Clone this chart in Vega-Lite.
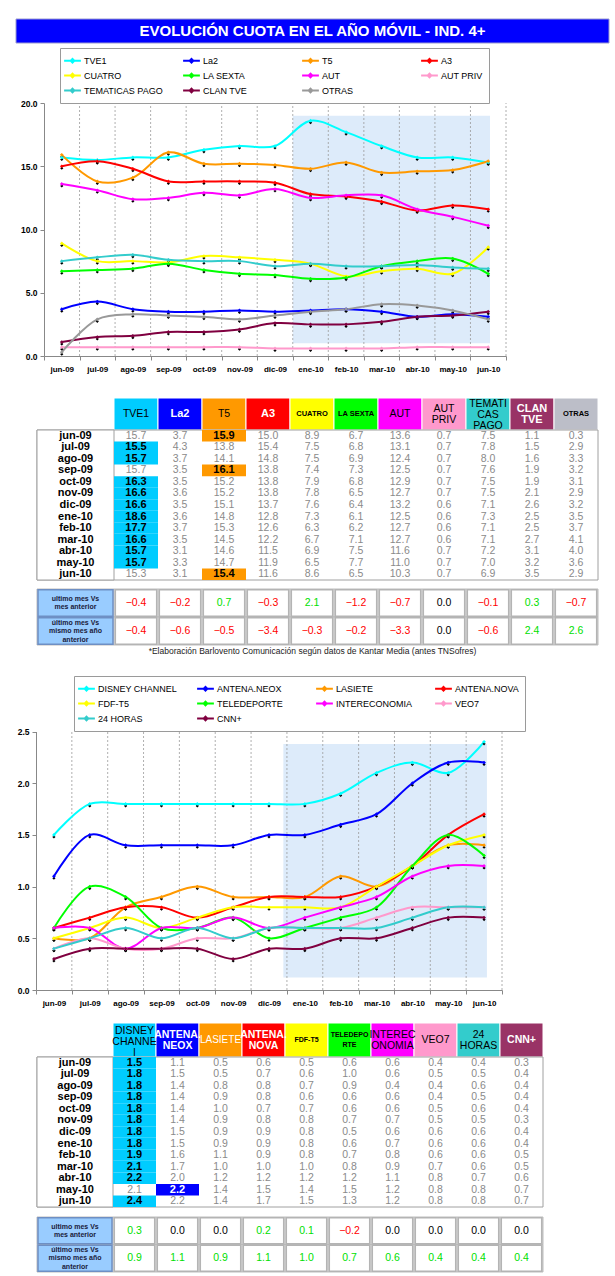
{
"$schema":"https://vega.github.io/schema/vega-lite/v6.json",
"padding":{"left":15,"top":18,"right":7,"bottom":5},
"spacing":0,
"bounds":"flush",
"resolve":{"scale":{"color":"independent"},"legend":{"color":"independent"}},
"config":{"view":{"stroke":null},"font":"Liberation Sans, Arial, sans-serif"},
"datasets":{
"d1":[
{"m":"jun-09","c":"TVE1","v":15.7},{"m":"jul-09","c":"TVE1","v":15.5},{"m":"ago-09","c":"TVE1","v":15.7},{"m":"sep-09","c":"TVE1","v":15.7},{"m":"oct-09","c":"TVE1","v":16.3},{"m":"nov-09","c":"TVE1","v":16.6},{"m":"dic-09","c":"TVE1","v":16.6},{"m":"ene-10","c":"TVE1","v":18.6},{"m":"feb-10","c":"TVE1","v":17.7},{"m":"mar-10","c":"TVE1","v":16.6},{"m":"abr-10","c":"TVE1","v":15.7},{"m":"may-10","c":"TVE1","v":15.7},{"m":"jun-10","c":"TVE1","v":15.3},
{"m":"jun-09","c":"La2","v":3.7},{"m":"jul-09","c":"La2","v":4.3},{"m":"ago-09","c":"La2","v":3.7},{"m":"sep-09","c":"La2","v":3.5},{"m":"oct-09","c":"La2","v":3.5},{"m":"nov-09","c":"La2","v":3.6},{"m":"dic-09","c":"La2","v":3.5},{"m":"ene-10","c":"La2","v":3.6},{"m":"feb-10","c":"La2","v":3.7},{"m":"mar-10","c":"La2","v":3.5},{"m":"abr-10","c":"La2","v":3.1},{"m":"may-10","c":"La2","v":3.3},{"m":"jun-10","c":"La2","v":3.1},
{"m":"jun-09","c":"T5","v":15.9},{"m":"jul-09","c":"T5","v":13.8},{"m":"ago-09","c":"T5","v":14.1},{"m":"sep-09","c":"T5","v":16.1},{"m":"oct-09","c":"T5","v":15.2},{"m":"nov-09","c":"T5","v":15.2},{"m":"dic-09","c":"T5","v":15.1},{"m":"ene-10","c":"T5","v":14.8},{"m":"feb-10","c":"T5","v":15.3},{"m":"mar-10","c":"T5","v":14.5},{"m":"abr-10","c":"T5","v":14.6},{"m":"may-10","c":"T5","v":14.7},{"m":"jun-10","c":"T5","v":15.4},
{"m":"jun-09","c":"A3","v":15.0},{"m":"jul-09","c":"A3","v":15.4},{"m":"ago-09","c":"A3","v":14.8},{"m":"sep-09","c":"A3","v":13.8},{"m":"oct-09","c":"A3","v":13.8},{"m":"nov-09","c":"A3","v":13.8},{"m":"dic-09","c":"A3","v":13.7},{"m":"ene-10","c":"A3","v":12.8},{"m":"feb-10","c":"A3","v":12.6},{"m":"mar-10","c":"A3","v":12.2},{"m":"abr-10","c":"A3","v":11.5},{"m":"may-10","c":"A3","v":11.9},{"m":"jun-10","c":"A3","v":11.6},
{"m":"jun-09","c":"CUATRO","v":8.9},{"m":"jul-09","c":"CUATRO","v":7.5},{"m":"ago-09","c":"CUATRO","v":7.5},{"m":"sep-09","c":"CUATRO","v":7.4},{"m":"oct-09","c":"CUATRO","v":7.9},{"m":"nov-09","c":"CUATRO","v":7.8},{"m":"dic-09","c":"CUATRO","v":7.6},{"m":"ene-10","c":"CUATRO","v":7.3},{"m":"feb-10","c":"CUATRO","v":6.3},{"m":"mar-10","c":"CUATRO","v":6.7},{"m":"abr-10","c":"CUATRO","v":6.9},{"m":"may-10","c":"CUATRO","v":6.5},{"m":"jun-10","c":"CUATRO","v":8.6},
{"m":"jun-09","c":"LA SEXTA","v":6.7},{"m":"jul-09","c":"LA SEXTA","v":6.8},{"m":"ago-09","c":"LA SEXTA","v":6.9},{"m":"sep-09","c":"LA SEXTA","v":7.3},{"m":"oct-09","c":"LA SEXTA","v":6.8},{"m":"nov-09","c":"LA SEXTA","v":6.5},{"m":"dic-09","c":"LA SEXTA","v":6.4},{"m":"ene-10","c":"LA SEXTA","v":6.1},{"m":"feb-10","c":"LA SEXTA","v":6.2},{"m":"mar-10","c":"LA SEXTA","v":7.1},{"m":"abr-10","c":"LA SEXTA","v":7.5},{"m":"may-10","c":"LA SEXTA","v":7.7},{"m":"jun-10","c":"LA SEXTA","v":6.5},
{"m":"jun-09","c":"AUT","v":13.6},{"m":"jul-09","c":"AUT","v":13.1},{"m":"ago-09","c":"AUT","v":12.4},{"m":"sep-09","c":"AUT","v":12.5},{"m":"oct-09","c":"AUT","v":12.9},{"m":"nov-09","c":"AUT","v":12.7},{"m":"dic-09","c":"AUT","v":13.2},{"m":"ene-10","c":"AUT","v":12.5},{"m":"feb-10","c":"AUT","v":12.7},{"m":"mar-10","c":"AUT","v":12.7},{"m":"abr-10","c":"AUT","v":11.6},{"m":"may-10","c":"AUT","v":11.0},{"m":"jun-10","c":"AUT","v":10.3},
{"m":"jun-09","c":"AUT PRIV","v":0.7},{"m":"jul-09","c":"AUT PRIV","v":0.7},{"m":"ago-09","c":"AUT PRIV","v":0.7},{"m":"sep-09","c":"AUT PRIV","v":0.7},{"m":"oct-09","c":"AUT PRIV","v":0.7},{"m":"nov-09","c":"AUT PRIV","v":0.7},{"m":"dic-09","c":"AUT PRIV","v":0.6},{"m":"ene-10","c":"AUT PRIV","v":0.6},{"m":"feb-10","c":"AUT PRIV","v":0.6},{"m":"mar-10","c":"AUT PRIV","v":0.6},{"m":"abr-10","c":"AUT PRIV","v":0.7},{"m":"may-10","c":"AUT PRIV","v":0.7},{"m":"jun-10","c":"AUT PRIV","v":0.7},
{"m":"jun-09","c":"TEMATICAS PAGO","v":7.5},{"m":"jul-09","c":"TEMATICAS PAGO","v":7.8},{"m":"ago-09","c":"TEMATICAS PAGO","v":8.0},{"m":"sep-09","c":"TEMATICAS PAGO","v":7.6},{"m":"oct-09","c":"TEMATICAS PAGO","v":7.5},{"m":"nov-09","c":"TEMATICAS PAGO","v":7.5},{"m":"dic-09","c":"TEMATICAS PAGO","v":7.1},{"m":"ene-10","c":"TEMATICAS PAGO","v":7.3},{"m":"feb-10","c":"TEMATICAS PAGO","v":7.1},{"m":"mar-10","c":"TEMATICAS PAGO","v":7.1},{"m":"abr-10","c":"TEMATICAS PAGO","v":7.2},{"m":"may-10","c":"TEMATICAS PAGO","v":7.0},{"m":"jun-10","c":"TEMATICAS PAGO","v":6.9},
{"m":"jun-09","c":"CLAN TVE","v":1.1},{"m":"jul-09","c":"CLAN TVE","v":1.5},{"m":"ago-09","c":"CLAN TVE","v":1.6},{"m":"sep-09","c":"CLAN TVE","v":1.9},{"m":"oct-09","c":"CLAN TVE","v":1.9},{"m":"nov-09","c":"CLAN TVE","v":2.1},{"m":"dic-09","c":"CLAN TVE","v":2.6},{"m":"ene-10","c":"CLAN TVE","v":2.5},{"m":"feb-10","c":"CLAN TVE","v":2.5},{"m":"mar-10","c":"CLAN TVE","v":2.7},{"m":"abr-10","c":"CLAN TVE","v":3.1},{"m":"may-10","c":"CLAN TVE","v":3.2},{"m":"jun-10","c":"CLAN TVE","v":3.5},
{"m":"jun-09","c":"OTRAS","v":0.3},{"m":"jul-09","c":"OTRAS","v":2.9},{"m":"ago-09","c":"OTRAS","v":3.3},{"m":"sep-09","c":"OTRAS","v":3.2},{"m":"oct-09","c":"OTRAS","v":3.1},{"m":"nov-09","c":"OTRAS","v":2.9},{"m":"dic-09","c":"OTRAS","v":3.2},{"m":"ene-10","c":"OTRAS","v":3.5},{"m":"feb-10","c":"OTRAS","v":3.7},{"m":"mar-10","c":"OTRAS","v":4.1},{"m":"abr-10","c":"OTRAS","v":4.0},{"m":"may-10","c":"OTRAS","v":3.6},{"m":"jun-10","c":"OTRAS","v":2.9}
],
"d2":[
{"m":"jun-09","c":"DISNEY CHANNEL","v":1.5},{"m":"jul-09","c":"DISNEY CHANNEL","v":1.8},{"m":"ago-09","c":"DISNEY CHANNEL","v":1.8},{"m":"sep-09","c":"DISNEY CHANNEL","v":1.8},{"m":"oct-09","c":"DISNEY CHANNEL","v":1.8},{"m":"nov-09","c":"DISNEY CHANNEL","v":1.8},{"m":"dic-09","c":"DISNEY CHANNEL","v":1.8},{"m":"ene-10","c":"DISNEY CHANNEL","v":1.8},{"m":"feb-10","c":"DISNEY CHANNEL","v":1.9},{"m":"mar-10","c":"DISNEY CHANNEL","v":2.1},{"m":"abr-10","c":"DISNEY CHANNEL","v":2.2},{"m":"may-10","c":"DISNEY CHANNEL","v":2.1},{"m":"jun-10","c":"DISNEY CHANNEL","v":2.4},
{"m":"jun-09","c":"ANTENA.NEOX","v":1.1},{"m":"jul-09","c":"ANTENA.NEOX","v":1.5},{"m":"ago-09","c":"ANTENA.NEOX","v":1.4},{"m":"sep-09","c":"ANTENA.NEOX","v":1.4},{"m":"oct-09","c":"ANTENA.NEOX","v":1.4},{"m":"nov-09","c":"ANTENA.NEOX","v":1.4},{"m":"dic-09","c":"ANTENA.NEOX","v":1.5},{"m":"ene-10","c":"ANTENA.NEOX","v":1.5},{"m":"feb-10","c":"ANTENA.NEOX","v":1.6},{"m":"mar-10","c":"ANTENA.NEOX","v":1.7},{"m":"abr-10","c":"ANTENA.NEOX","v":2.0},{"m":"may-10","c":"ANTENA.NEOX","v":2.2},{"m":"jun-10","c":"ANTENA.NEOX","v":2.2},
{"m":"jun-09","c":"LASIETE","v":0.5},{"m":"jul-09","c":"LASIETE","v":0.5},{"m":"ago-09","c":"LASIETE","v":0.8},{"m":"sep-09","c":"LASIETE","v":0.9},{"m":"oct-09","c":"LASIETE","v":1.0},{"m":"nov-09","c":"LASIETE","v":0.9},{"m":"dic-09","c":"LASIETE","v":0.9},{"m":"ene-10","c":"LASIETE","v":0.9},{"m":"feb-10","c":"LASIETE","v":1.1},{"m":"mar-10","c":"LASIETE","v":1.0},{"m":"abr-10","c":"LASIETE","v":1.2},{"m":"may-10","c":"LASIETE","v":1.4},{"m":"jun-10","c":"LASIETE","v":1.4},
{"m":"jun-09","c":"ANTENA.NOVA","v":0.6},{"m":"jul-09","c":"ANTENA.NOVA","v":0.7},{"m":"ago-09","c":"ANTENA.NOVA","v":0.8},{"m":"sep-09","c":"ANTENA.NOVA","v":0.8},{"m":"oct-09","c":"ANTENA.NOVA","v":0.7},{"m":"nov-09","c":"ANTENA.NOVA","v":0.8},{"m":"dic-09","c":"ANTENA.NOVA","v":0.9},{"m":"ene-10","c":"ANTENA.NOVA","v":0.9},{"m":"feb-10","c":"ANTENA.NOVA","v":0.9},{"m":"mar-10","c":"ANTENA.NOVA","v":1.0},{"m":"abr-10","c":"ANTENA.NOVA","v":1.2},{"m":"may-10","c":"ANTENA.NOVA","v":1.5},{"m":"jun-10","c":"ANTENA.NOVA","v":1.7},
{"m":"jun-09","c":"FDF-T5","v":0.5},{"m":"jul-09","c":"FDF-T5","v":0.6},{"m":"ago-09","c":"FDF-T5","v":0.7},{"m":"sep-09","c":"FDF-T5","v":0.6},{"m":"oct-09","c":"FDF-T5","v":0.7},{"m":"nov-09","c":"FDF-T5","v":0.8},{"m":"dic-09","c":"FDF-T5","v":0.8},{"m":"ene-10","c":"FDF-T5","v":0.8},{"m":"feb-10","c":"FDF-T5","v":0.8},{"m":"mar-10","c":"FDF-T5","v":1.0},{"m":"abr-10","c":"FDF-T5","v":1.2},{"m":"may-10","c":"FDF-T5","v":1.4},{"m":"jun-10","c":"FDF-T5","v":1.5},
{"m":"jun-09","c":"TELEDEPORTE","v":0.6},{"m":"jul-09","c":"TELEDEPORTE","v":1.0},{"m":"ago-09","c":"TELEDEPORTE","v":0.9},{"m":"sep-09","c":"TELEDEPORTE","v":0.6},{"m":"oct-09","c":"TELEDEPORTE","v":0.6},{"m":"nov-09","c":"TELEDEPORTE","v":0.7},{"m":"dic-09","c":"TELEDEPORTE","v":0.5},{"m":"ene-10","c":"TELEDEPORTE","v":0.6},{"m":"feb-10","c":"TELEDEPORTE","v":0.7},{"m":"mar-10","c":"TELEDEPORTE","v":0.8},{"m":"abr-10","c":"TELEDEPORTE","v":1.2},{"m":"may-10","c":"TELEDEPORTE","v":1.5},{"m":"jun-10","c":"TELEDEPORTE","v":1.3},
{"m":"jun-09","c":"INTERECONOMIA","v":0.6},{"m":"jul-09","c":"INTERECONOMIA","v":0.6},{"m":"ago-09","c":"INTERECONOMIA","v":0.4},{"m":"sep-09","c":"INTERECONOMIA","v":0.6},{"m":"oct-09","c":"INTERECONOMIA","v":0.6},{"m":"nov-09","c":"INTERECONOMIA","v":0.7},{"m":"dic-09","c":"INTERECONOMIA","v":0.6},{"m":"ene-10","c":"INTERECONOMIA","v":0.7},{"m":"feb-10","c":"INTERECONOMIA","v":0.8},{"m":"mar-10","c":"INTERECONOMIA","v":0.9},{"m":"abr-10","c":"INTERECONOMIA","v":1.1},{"m":"may-10","c":"INTERECONOMIA","v":1.2},{"m":"jun-10","c":"INTERECONOMIA","v":1.2},
{"m":"jun-09","c":"VEO7","v":0.4},{"m":"jul-09","c":"VEO7","v":0.5},{"m":"ago-09","c":"VEO7","v":0.4},{"m":"sep-09","c":"VEO7","v":0.4},{"m":"oct-09","c":"VEO7","v":0.5},{"m":"nov-09","c":"VEO7","v":0.5},{"m":"dic-09","c":"VEO7","v":0.6},{"m":"ene-10","c":"VEO7","v":0.6},{"m":"feb-10","c":"VEO7","v":0.6},{"m":"mar-10","c":"VEO7","v":0.7},{"m":"abr-10","c":"VEO7","v":0.8},{"m":"may-10","c":"VEO7","v":0.8},{"m":"jun-10","c":"VEO7","v":0.8},
{"m":"jun-09","c":"24 HORAS","v":0.4},{"m":"jul-09","c":"24 HORAS","v":0.5},{"m":"ago-09","c":"24 HORAS","v":0.6},{"m":"sep-09","c":"24 HORAS","v":0.5},{"m":"oct-09","c":"24 HORAS","v":0.6},{"m":"nov-09","c":"24 HORAS","v":0.5},{"m":"dic-09","c":"24 HORAS","v":0.6},{"m":"ene-10","c":"24 HORAS","v":0.6},{"m":"feb-10","c":"24 HORAS","v":0.6},{"m":"mar-10","c":"24 HORAS","v":0.6},{"m":"abr-10","c":"24 HORAS","v":0.7},{"m":"may-10","c":"24 HORAS","v":0.8},{"m":"jun-10","c":"24 HORAS","v":0.8},
{"m":"jun-09","c":"CNN+","v":0.3},{"m":"jul-09","c":"CNN+","v":0.4},{"m":"ago-09","c":"CNN+","v":0.4},{"m":"sep-09","c":"CNN+","v":0.4},{"m":"oct-09","c":"CNN+","v":0.4},{"m":"nov-09","c":"CNN+","v":0.3},{"m":"dic-09","c":"CNN+","v":0.4},{"m":"ene-10","c":"CNN+","v":0.4},{"m":"feb-10","c":"CNN+","v":0.5},{"m":"mar-10","c":"CNN+","v":0.5},{"m":"abr-10","c":"CNN+","v":0.6},{"m":"may-10","c":"CNN+","v":0.7},{"m":"jun-10","c":"CNN+","v":0.7}
],
"h1":[{"c":"TVE1","lab":"TVE1"},{"c":"La2","lab":"La2"},{"c":"T5","lab":"T5"},{"c":"A3","lab":"A3"},{"c":"CUATRO","lab":"CUATRO"},{"c":"LA SEXTA","lab":"LA SEXTA"},{"c":"AUT","lab":"AUT"},{"c":"AUT PRIV","lab":"AUT\nPRIV"},{"c":"TEMATICAS PAGO","lab":"TEMATI\nCAS\nPAGO"},{"c":"CLAN TVE","lab":"CLAN\nTVE"},{"c":"OTRAS","lab":"OTRAS"}],
"h2":[{"c":"DISNEY CHANNEL","lab":"DISNEY\nCHANNE\nl"},{"c":"ANTENA.NEOX","lab":"ANTENA.\nNEOX"},{"c":"LASIETE","lab":"LASIETE"},{"c":"ANTENA.NOVA","lab":"ANTENA.\nNOVA"},{"c":"FDF-T5","lab":"FDF-T5"},{"c":"TELEDEPORTE","lab":"TELEDEPO\nRTE"},{"c":"INTERECONOMIA","lab":"INTEREC\nONOMIA"},{"c":"VEO7","lab":"VEO7"},{"c":"24 HORAS","lab":"24\nHORAS"},{"c":"CNN+","lab":"CNN+"}],
"s1":[
{"c":"TVE1","f":"ultimo mes  Vs\nmes anterior","v":-0.4},{"c":"La2","f":"ultimo mes  Vs\nmes anterior","v":-0.2},{"c":"T5","f":"ultimo mes  Vs\nmes anterior","v":0.7},{"c":"A3","f":"ultimo mes  Vs\nmes anterior","v":-0.3},{"c":"CUATRO","f":"ultimo mes  Vs\nmes anterior","v":2.1},{"c":"LA SEXTA","f":"ultimo mes  Vs\nmes anterior","v":-1.2},{"c":"AUT","f":"ultimo mes  Vs\nmes anterior","v":-0.7},{"c":"AUT PRIV","f":"ultimo mes  Vs\nmes anterior","v":0.0},{"c":"TEMATICAS PAGO","f":"ultimo mes  Vs\nmes anterior","v":-0.1},{"c":"CLAN TVE","f":"ultimo mes  Vs\nmes anterior","v":0.3},{"c":"OTRAS","f":"ultimo mes  Vs\nmes anterior","v":-0.7},
{"c":"TVE1","f":"último mes Vs\nmismo mes año\nanterior","v":-0.4},{"c":"La2","f":"último mes Vs\nmismo mes año\nanterior","v":-0.6},{"c":"T5","f":"último mes Vs\nmismo mes año\nanterior","v":-0.5},{"c":"A3","f":"último mes Vs\nmismo mes año\nanterior","v":-3.4},{"c":"CUATRO","f":"último mes Vs\nmismo mes año\nanterior","v":-0.3},{"c":"LA SEXTA","f":"último mes Vs\nmismo mes año\nanterior","v":-0.2},{"c":"AUT","f":"último mes Vs\nmismo mes año\nanterior","v":-3.3},{"c":"AUT PRIV","f":"último mes Vs\nmismo mes año\nanterior","v":0.0},{"c":"TEMATICAS PAGO","f":"último mes Vs\nmismo mes año\nanterior","v":-0.6},{"c":"CLAN TVE","f":"último mes Vs\nmismo mes año\nanterior","v":2.4},{"c":"OTRAS","f":"último mes Vs\nmismo mes año\nanterior","v":2.6}
],
"s2":[
{"c":"DISNEY CHANNEL","f":"ultimo mes  Vs\nmes anterior","v":0.3},{"c":"ANTENA.NEOX","f":"ultimo mes  Vs\nmes anterior","v":0.0},{"c":"LASIETE","f":"ultimo mes  Vs\nmes anterior","v":0.0},{"c":"ANTENA.NOVA","f":"ultimo mes  Vs\nmes anterior","v":0.2},{"c":"FDF-T5","f":"ultimo mes  Vs\nmes anterior","v":0.1},{"c":"TELEDEPORTE","f":"ultimo mes  Vs\nmes anterior","v":-0.2},{"c":"INTERECONOMIA","f":"ultimo mes  Vs\nmes anterior","v":0.0},{"c":"VEO7","f":"ultimo mes  Vs\nmes anterior","v":0.0},{"c":"24 HORAS","f":"ultimo mes  Vs\nmes anterior","v":0.0},{"c":"CNN+","f":"ultimo mes  Vs\nmes anterior","v":0.0},
{"c":"DISNEY CHANNEL","f":"último mes Vs\nmismo mes año\nanterior","v":0.9},{"c":"ANTENA.NEOX","f":"último mes Vs\nmismo mes año\nanterior","v":1.1},{"c":"LASIETE","f":"último mes Vs\nmismo mes año\nanterior","v":0.9},{"c":"ANTENA.NOVA","f":"último mes Vs\nmismo mes año\nanterior","v":1.1},{"c":"FDF-T5","f":"último mes Vs\nmismo mes año\nanterior","v":1.0},{"c":"TELEDEPORTE","f":"último mes Vs\nmismo mes año\nanterior","v":0.7},{"c":"INTERECONOMIA","f":"último mes Vs\nmismo mes año\nanterior","v":0.6},{"c":"VEO7","f":"último mes Vs\nmismo mes año\nanterior","v":0.4},{"c":"24 HORAS","f":"último mes Vs\nmismo mes año\nanterior","v":0.4},{"c":"CNN+","f":"último mes Vs\nmismo mes año\nanterior","v":0.4}
]
},
"vconcat":[
{
 "width":593,"height":24,
 "data":{"values":[{"t":"EVOLUCIÓN CUOTA EN EL AÑO MÓVIL - IND. 4+"}]},
 "layer":[
  {"mark":{"type":"rect","fill":"#0000FF","stroke":"#9A9AD0"}},
  {"mark":{"type":"text","color":"#FFFFFF","fontSize":15,"fontWeight":"bold","align":"center","baseline":"middle"},"encoding":{"text":{"field":"t","type":"nominal"}}}
 ]
},
{
 "width":593,"height":355,
 "data":{"name":"d1"},
 "layer":[
  {"data":{"values":[{}]},"mark":{"type":"rect","color":"#DDEBFA"},"encoding":{"x":{"datum":7,"type":"quantitative","scale":{"domain":[0,13],"range":[28,490]},"axis":null},"x2":{"datum":12.55},"y":{"datum":1,"type":"quantitative","scale":{"domain":[0,20],"range":[313,60],"nice":false},"axis":null},"y2":{"datum":19}}},
  {"transform":[{"filter":{"field":"c","equal":"TVE1"}}],"mark":{"type":"rule","color":"#9A9A9A","strokeDash":[2,2],"strokeWidth":0.8},"encoding":{"x":{"field":"m","type":"ordinal","bandPosition":1,"scale":{"type":"band","domain":["jun-09","jul-09","ago-09","sep-09","oct-09","nov-09","dic-09","ene-10","feb-10","mar-10","abr-10","may-10","jun-10"],"range":[28,490],"paddingInner":0,"paddingOuter":0},"axis":null},"y":{"datum":0,"type":"quantitative","axis":null},"y2":{"datum":20}}},
  {"mark":{"type":"line","interpolate":"catmull-rom","strokeWidth":2},"encoding":{
   "x":{"field":"m","type":"ordinal","scale":{"type":"band","domain":["jun-09","jul-09","ago-09","sep-09","oct-09","nov-09","dic-09","ene-10","feb-10","mar-10","abr-10","may-10","jun-10"],"range":[28,490],"paddingInner":0,"paddingOuter":0},"axis":{"title":null,"offset":-42,"labelAngle":0,"labelFontSize":8,"labelFontWeight":"bold","labelColor":"#000000","labelPadding":5,"tickBand":"extent","tickSize":4,"tickColor":"#888888","domainColor":"#888888","grid":false}},
   "y":{"field":"v","type":"quantitative","axis":{"title":null,"offset":-28,"values":[0,5,10,15,20],"format":".1f","labelFontSize":8.5,"labelFontWeight":"bold","labelColor":"#000000","tickSize":4,"tickColor":"#888888","domainColor":"#888888","grid":false,"labelPadding":3}},
   "color":{"field":"c","type":"nominal","scale":{"domain":["TVE1","La2","T5","A3","CUATRO","LA SEXTA","AUT","AUT PRIV","TEMATICAS PAGO","CLAN TVE","OTRAS"],"range":["#00FFFF","#0000FF","#FF9900","#FF0000","#FFFF00","#00FF00","#FF00FF","#FF99CC","#33CCCC","#800040","#999999"]},"legend":{"orient":"none","legendX":44,"legendY":5,"direction":"horizontal","columns":4,"title":null,"symbolType":"M-1.6,0L1.6,0M0,-0.35L0.35,0L0,0.35L-0.35,0Z","symbolSize":110,"symbolStrokeWidth":2,"labelFontSize":9,"labelColor":"#000000","columnPadding":16,"rowPadding":2,"padding":6,"strokeColor":"#9A9A9A","fillColor":"#FFFFFF","gridAlign":"all","labelOffset":5}}}},
  {"mark":{"type":"point","shape":"diamond","filled":true,"size":10,"color":"#000000","yOffset":2,"opacity":1},"encoding":{"x":{"field":"m","type":"ordinal","scale":{"type":"band","domain":["jun-09","jul-09","ago-09","sep-09","oct-09","nov-09","dic-09","ene-10","feb-10","mar-10","abr-10","may-10","jun-10"],"range":[28,490],"paddingInner":0,"paddingOuter":0},"axis":null},"y":{"field":"v","type":"quantitative","axis":null}}},
  {"mark":{"type":"point","shape":"diamond","filled":true,"size":14,"opacity":1},"encoding":{"x":{"field":"m","type":"ordinal","scale":{"type":"band","domain":["jun-09","jul-09","ago-09","sep-09","oct-09","nov-09","dic-09","ene-10","feb-10","mar-10","abr-10","may-10","jun-10"],"range":[28,490],"paddingInner":0,"paddingOuter":0},"axis":null},"y":{"field":"v","type":"quantitative","axis":null},"color":{"field":"c","type":"nominal","legend":null}}}
 ],
 "resolve":{"scale":{"x":"independent"},"axis":{"x":"independent","y":"independent"}}
},
{
 "width":593,"height":32,
 "data":{"name":"h1"},
 "encoding":{"x":{"field":"c","type":"nominal","scale":{"type":"band","domain":["TVE1","La2","T5","A3","CUATRO","LA SEXTA","AUT","AUT PRIV","TEMATICAS PAGO","CLAN TVE","OTRAS"],"range":[98,582],"paddingInner":0,"paddingOuter":0},"axis":null}},
 "layer":[
  {"mark":{"type":"rect","stroke":"#FFFFFF","strokeWidth":1},"encoding":{"color":{"field":"c","type":"nominal","scale":{"domain":["TVE1","La2","T5","A3","CUATRO","LA SEXTA","AUT","AUT PRIV","TEMATICAS PAGO","CLAN TVE","OTRAS"],"range":["#00CCFF","#0000FF","#FF9900","#FF0000","#FFFF00","#00FF00","#FF00FF","#FF99CC","#33CCCC","#993366","#BCBEC8"]},"legend":null}}},
  {"transform":[{"filter":{"field":"c","oneOf":["TVE1","T5","AUT"]}}],"mark":{"type":"text","fontSize":10.5,"color":"#000000"},"encoding":{"text":{"field":"lab","type":"nominal"}}},
  {"transform":[{"filter":{"field":"c","oneOf":["AUT PRIV"]}}],"mark":{"type":"text","fontSize":10.5,"color":"#000000","lineBreak":"\n","lineHeight":11,"dy":-5.5},"encoding":{"text":{"field":"lab","type":"nominal"}}},
  {"transform":[{"filter":{"field":"c","oneOf":["TEMATICAS PAGO"]}}],"mark":{"type":"text","fontSize":10.5,"color":"#000000","lineBreak":"\n","lineHeight":11,"dy":-10},"encoding":{"text":{"field":"lab","type":"nominal"}}},
  {"transform":[{"filter":{"field":"c","oneOf":["La2","A3"]}}],"mark":{"type":"text","fontSize":11,"fontWeight":"bold","color":"#FFFFFF"},"encoding":{"text":{"field":"lab","type":"nominal"}}},
  {"transform":[{"filter":{"field":"c","oneOf":["CLAN TVE"]}}],"mark":{"type":"text","fontSize":11,"fontWeight":"bold","color":"#FFFFFF","lineBreak":"\n","lineHeight":11,"dy":-5.5},"encoding":{"text":{"field":"lab","type":"nominal"}}},
  {"transform":[{"filter":{"field":"c","oneOf":["CUATRO","LA SEXTA","OTRAS"]}}],"mark":{"type":"text","fontSize":7.5,"fontWeight":"bold","color":"#000000"},"encoding":{"text":{"field":"lab","type":"nominal"}}}
 ]
},
{
 "width":593,"height":150,
 "layer":[
  {"data":{"values":[{}]},"mark":{"type":"rect","fill":"#FFFFFF","stroke":"#A0A0A0","strokeWidth":1},"encoding":{"x":{"datum":0,"type":"quantitative","scale":{"domain":[0,1],"range":[21,582]},"axis":null},"x2":{"datum":1}}},
  {"data":{"values":[{}]},"mark":{"type":"rect","fill":"#FFFFFF","stroke":"#A0A0A0","strokeWidth":1},"encoding":{"x":{"datum":0,"type":"quantitative","scale":{"domain":[0,1],"range":[21,98]},"axis":null},"x2":{"datum":1}}},
  {"data":{"name":"d1"},"transform":[{"joinaggregate":[{"op":"max","field":"v","as":"mx"}],"groupby":["m"]},{"filter":"datum.v === datum.mx"}],"mark":{"type":"rect"},
   "encoding":{"x":{"field":"c","type":"nominal","scale":{"type":"band","domain":["TVE1","La2","T5","A3","CUATRO","LA SEXTA","AUT","AUT PRIV","TEMATICAS PAGO","CLAN TVE","OTRAS"],"range":[98,582],"paddingInner":0,"paddingOuter":0},"axis":null},
   "y":{"field":"m","type":"ordinal","scale":{"type":"band","domain":["jun-09","jul-09","ago-09","sep-09","oct-09","nov-09","dic-09","ene-10","feb-10","mar-10","abr-10","may-10","jun-10"],"range":[0,150],"paddingInner":0,"paddingOuter":0},"axis":null},
   "color":{"field":"c","type":"nominal","scale":{"domain":["TVE1","La2","T5","A3","CUATRO","LA SEXTA","AUT","AUT PRIV","TEMATICAS PAGO","CLAN TVE","OTRAS"],"range":["#00CCFF","#0000FF","#FF9900","#FF0000","#FFFF00","#00FF00","#FF00FF","#FF99CC","#33CCCC","#993366","#BCBEC8"]},"legend":null}}},
  {"data":{"name":"d1"},"transform":[{"joinaggregate":[{"op":"max","field":"v","as":"mx"}],"groupby":["m"]},{"filter":"datum.v < datum.mx"}],"mark":{"type":"text","fontSize":10.5,"color":"#8A8A8A"},
   "encoding":{"x":{"field":"c","type":"nominal","scale":{"type":"band","domain":["TVE1","La2","T5","A3","CUATRO","LA SEXTA","AUT","AUT PRIV","TEMATICAS PAGO","CLAN TVE","OTRAS"],"range":[98,582],"paddingInner":0,"paddingOuter":0},"axis":null},
   "y":{"field":"m","type":"ordinal","axis":null},"text":{"field":"v","type":"quantitative","format":".1f"}}},
  {"data":{"name":"d1"},"transform":[{"joinaggregate":[{"op":"max","field":"v","as":"mx"}],"groupby":["m"]},{"filter":"datum.v === datum.mx"}],"mark":{"type":"text","fontSize":11,"fontWeight":"bold","color":"#000000"},
   "encoding":{"x":{"field":"c","type":"nominal","scale":{"type":"band","domain":["TVE1","La2","T5","A3","CUATRO","LA SEXTA","AUT","AUT PRIV","TEMATICAS PAGO","CLAN TVE","OTRAS"],"range":[98,582],"paddingInner":0,"paddingOuter":0},"axis":null},
   "y":{"field":"m","type":"ordinal","axis":null},"text":{"field":"v","type":"quantitative","format":".1f"}}},
  {"data":{"name":"d1"},"transform":[{"filter":{"field":"c","equal":"TVE1"}}],"mark":{"type":"text","fontSize":11,"fontWeight":"bold","color":"#000000"},
   "encoding":{"x":{"datum":0.5,"type":"quantitative","scale":{"domain":[0,1],"range":[21,98]},"axis":null},"y":{"field":"m","type":"ordinal","axis":null},"text":{"field":"m","type":"nominal"}}}
 ],
 "resolve":{"scale":{"x":"independent","color":"independent"}}
},
{
 "width":593,"height":65,
 "title":{"text":"*Elaboración Barlovento Comunicación según datos de Kantar Media (antes TNSofres)","orient":"bottom","fontSize":8.5,"fontWeight":"normal","color":"#222222","offset":1,"anchor":"middle"},
 "data":{"name":"s1"},
 "encoding":{"y":{"field":"f","type":"nominal","scale":{"type":"band","domain":["ultimo mes  Vs\nmes anterior","último mes Vs\nmismo mes año\nanterior"],"range":[9,65],"paddingInner":0.06,"paddingOuter":0.03},"axis":null}},
 "layer":[
  {"transform":[{"filter":{"field":"c","equal":"TVE1"}}],"mark":{"type":"rect","fill":"#D6D6D6","stroke":"#BDBDBD","strokeWidth":1},"encoding":{"x":{"datum":0,"type":"quantitative","scale":{"domain":[0,1],"range":[21,582]},"axis":null},"x2":{"datum":1},"y":{"field":"f","type":"nominal","scale":{"type":"band","domain":["ultimo mes  Vs\nmes anterior","último mes Vs\nmismo mes año\nanterior"],"range":[9,65],"paddingInner":0,"paddingOuter":0},"axis":null}}},
  {"transform":[{"filter":{"field":"c","equal":"TVE1"}}],"mark":{"type":"rect","fill":"#99CCFF","stroke":"#6E8FC4","strokeWidth":1.5},"encoding":{"x":{"datum":0,"type":"quantitative","scale":{"domain":[0,1],"range":[22,97]},"axis":null},"x2":{"datum":1}}},
  {"transform":[{"filter":{"and":[{"field":"c","equal":"TVE1"},{"field":"f","equal":"ultimo mes  Vs\nmes anterior"}]}}],"mark":{"type":"text","fontSize":7,"fontWeight":"bold","color":"#1A1A3A","lineBreak":"\n","lineHeight":8.5,"dy":-4.25},"encoding":{"x":{"datum":0.5,"type":"quantitative","scale":{"domain":[0,1],"range":[22,97]},"axis":null},"text":{"field":"f","type":"nominal"}}},
  {"transform":[{"filter":{"and":[{"field":"c","equal":"TVE1"},{"field":"f","equal":"último mes Vs\nmismo mes año\nanterior"}]}}],"mark":{"type":"text","fontSize":7,"fontWeight":"bold","color":"#1A1A3A","lineBreak":"\n","lineHeight":8.5,"dy":-8.5},"encoding":{"x":{"datum":0.5,"type":"quantitative","scale":{"domain":[0,1],"range":[22,97]},"axis":null},"text":{"field":"f","type":"nominal"}}},
  {"mark":{"type":"rect","fill":"#FFFFFF","stroke":"#B4B4B4","strokeWidth":1.5},"encoding":{"x":{"field":"c","type":"nominal","scale":{"type":"band","domain":["TVE1","La2","T5","A3","CUATRO","LA SEXTA","AUT","AUT PRIV","TEMATICAS PAGO","CLAN TVE","OTRAS"],"range":[98,582],"paddingInner":0.06,"paddingOuter":0.03},"axis":null}}},
  {"mark":{"type":"text","fontSize":10.5},"encoding":{"x":{"field":"c","type":"nominal","scale":{"type":"band","domain":["TVE1","La2","T5","A3","CUATRO","LA SEXTA","AUT","AUT PRIV","TEMATICAS PAGO","CLAN TVE","OTRAS"],"range":[98,582],"paddingInner":0.06,"paddingOuter":0.03},"axis":null},"text":{"field":"v","type":"quantitative","format":".1f"},"color":{"condition":[{"test":"datum.v < 0","value":"#FF0000"},{"test":"datum.v > 0","value":"#00E000"}],"value":"#000000"}}}
 ],
 "resolve":{"scale":{"x":"independent","y":"independent"}}
},
{
 "width":593,"height":378,
 "data":{"name":"d2"},
 "layer":[
  {"data":{"values":[{}]},"mark":{"type":"rect","color":"#DDEBFA"},"encoding":{"x":{"datum":6.9,"type":"quantitative","scale":{"domain":[0,13],"range":[20,486]},"axis":null},"x2":{"datum":12.58},"y":{"datum":0.12,"type":"quantitative","scale":{"domain":[0,2.5],"range":[345,86.5],"nice":false},"axis":null},"y2":{"datum":2.38}}},
  {"transform":[{"filter":{"field":"c","equal":"DISNEY CHANNEL"}}],"mark":{"type":"rule","color":"#9A9A9A","strokeDash":[2,2],"strokeWidth":0.8},"encoding":{"x":{"field":"m","type":"ordinal","bandPosition":1,"scale":{"type":"band","domain":["jun-09","jul-09","ago-09","sep-09","oct-09","nov-09","dic-09","ene-10","feb-10","mar-10","abr-10","may-10","jun-10"],"range":[20,486],"paddingInner":0,"paddingOuter":0},"axis":null},"y":{"datum":0,"type":"quantitative","axis":null},"y2":{"datum":2.5}}},
  {"mark":{"type":"line","interpolate":"catmull-rom","strokeWidth":2},"encoding":{
   "x":{"field":"m","type":"ordinal","scale":{"type":"band","domain":["jun-09","jul-09","ago-09","sep-09","oct-09","nov-09","dic-09","ene-10","feb-10","mar-10","abr-10","may-10","jun-10"],"range":[20,486],"paddingInner":0,"paddingOuter":0},"axis":{"title":null,"offset":-33,"labelAngle":0,"labelFontSize":8,"labelFontWeight":"bold","labelColor":"#000000","labelPadding":5,"tickBand":"extent","tickSize":4,"tickColor":"#888888","domainColor":"#888888","grid":false}},
   "y":{"field":"v","type":"quantitative","axis":{"title":null,"offset":-20,"values":[0,0.5,1,1.5,2,2.5],"format":".1f","labelFontSize":8.5,"labelFontWeight":"bold","labelColor":"#000000","tickSize":4,"tickColor":"#888888","domainColor":"#888888","grid":false,"labelPadding":3}},
   "color":{"field":"c","type":"nominal","scale":{"domain":["DISNEY CHANNEL","ANTENA.NEOX","LASIETE","ANTENA.NOVA","FDF-T5","TELEDEPORTE","INTERECONOMIA","VEO7","24 HORAS","CNN+"],"range":["#00FFFF","#0000FF","#FF9900","#FF0000","#FFFF00","#00FF00","#FF00FF","#FF99CC","#33CCCC","#800040"]},"legend":{"orient":"none","legendX":58,"legendY":31,"direction":"horizontal","columns":4,"title":null,"symbolType":"M-1.6,0L1.6,0M0,-0.35L0.35,0L0,0.35L-0.35,0Z","symbolSize":110,"symbolStrokeWidth":2,"labelFontSize":9,"labelColor":"#000000","columnPadding":15,"rowPadding":2,"padding":6,"strokeColor":"#9A9A9A","fillColor":"#FFFFFF","gridAlign":"all","labelOffset":5}}}},
  {"mark":{"type":"point","shape":"diamond","filled":true,"size":10,"color":"#000000","yOffset":2,"opacity":1},"encoding":{"x":{"field":"m","type":"ordinal","scale":{"type":"band","domain":["jun-09","jul-09","ago-09","sep-09","oct-09","nov-09","dic-09","ene-10","feb-10","mar-10","abr-10","may-10","jun-10"],"range":[20,486],"paddingInner":0,"paddingOuter":0},"axis":null},"y":{"field":"v","type":"quantitative","axis":null}}},
  {"mark":{"type":"point","shape":"diamond","filled":true,"size":14,"opacity":1},"encoding":{"x":{"field":"m","type":"ordinal","scale":{"type":"band","domain":["jun-09","jul-09","ago-09","sep-09","oct-09","nov-09","dic-09","ene-10","feb-10","mar-10","abr-10","may-10","jun-10"],"range":[20,486],"paddingInner":0,"paddingOuter":0},"axis":null},"y":{"field":"v","type":"quantitative","axis":null},"color":{"field":"c","type":"nominal","legend":null}}}
 ],
 "resolve":{"scale":{"x":"independent"},"axis":{"x":"independent","y":"independent"}}
},
{
 "width":593,"height":34,
 "data":{"name":"h2"},
 "encoding":{"x":{"field":"c","type":"nominal","scale":{"type":"band","domain":["DISNEY CHANNEL","ANTENA.NEOX","LASIETE","ANTENA.NOVA","FDF-T5","TELEDEPORTE","INTERECONOMIA","VEO7","24 HORAS","CNN+"],"range":[97,527],"paddingInner":0,"paddingOuter":0},"axis":null}},
 "layer":[
  {"mark":{"type":"rect","stroke":"#FFFFFF","strokeWidth":1},"encoding":{"color":{"field":"c","type":"nominal","scale":{"domain":["DISNEY CHANNEL","ANTENA.NEOX","LASIETE","ANTENA.NOVA","FDF-T5","TELEDEPORTE","INTERECONOMIA","VEO7","24 HORAS","CNN+"],"range":["#00CCFF","#0000FF","#FF9900","#FF0000","#FFFF00","#00FF00","#FF00FF","#FF99CC","#33CCCC","#993366"]},"legend":null}}},
  {"transform":[{"filter":{"field":"c","oneOf":["VEO7"]}}],"mark":{"type":"text","fontSize":10.5,"color":"#000000"},"encoding":{"text":{"field":"lab","type":"nominal"}}},
  {"transform":[{"filter":{"field":"c","oneOf":["INTERECONOMIA","24 HORAS"]}}],"mark":{"type":"text","fontSize":10.5,"color":"#000000","lineBreak":"\n","lineHeight":11,"dy":-5.5},"encoding":{"text":{"field":"lab","type":"nominal"}}},
  {"transform":[{"filter":{"field":"c","oneOf":["DISNEY CHANNEL"]}}],"mark":{"type":"text","fontSize":10.5,"color":"#000000","lineBreak":"\n","lineHeight":11,"dy":-9},"encoding":{"text":{"field":"lab","type":"nominal"}}},
  {"transform":[{"filter":{"field":"c","oneOf":["LASIETE"]}}],"mark":{"type":"text","fontSize":10,"color":"#FFFFFF"},"encoding":{"text":{"field":"lab","type":"nominal"}}},
  {"transform":[{"filter":{"field":"c","oneOf":["ANTENA.NEOX","ANTENA.NOVA"]}}],"mark":{"type":"text","fontSize":10.5,"fontWeight":"bold","color":"#FFFFFF","lineBreak":"\n","lineHeight":11,"dy":-5.5},"encoding":{"text":{"field":"lab","type":"nominal"}}},
  {"transform":[{"filter":{"field":"c","oneOf":["CNN+"]}}],"mark":{"type":"text","fontSize":10.5,"fontWeight":"bold","color":"#FFFFFF"},"encoding":{"text":{"field":"lab","type":"nominal"}}},
  {"transform":[{"filter":{"field":"c","oneOf":["FDF-T5"]}}],"mark":{"type":"text","fontSize":7,"fontWeight":"bold","color":"#000000"},"encoding":{"text":{"field":"lab","type":"nominal"}}},
  {"transform":[{"filter":{"field":"c","oneOf":["TELEDEPORTE"]}}],"mark":{"type":"text","fontSize":7,"fontWeight":"bold","color":"#000000","lineBreak":"\n","lineHeight":10,"dy":-5},"encoding":{"text":{"field":"lab","type":"nominal"}}}
 ]
},
{
 "width":593,"height":150,
 "layer":[
  {"data":{"values":[{}]},"mark":{"type":"rect","fill":"#FFFFFF","stroke":"#A0A0A0","strokeWidth":1},"encoding":{"x":{"datum":0,"type":"quantitative","scale":{"domain":[0,1],"range":[21,527]},"axis":null},"x2":{"datum":1}}},
  {"data":{"values":[{}]},"mark":{"type":"rect","fill":"#FFFFFF","stroke":"#A0A0A0","strokeWidth":1},"encoding":{"x":{"datum":0,"type":"quantitative","scale":{"domain":[0,1],"range":[21,97]},"axis":null},"x2":{"datum":1}}},
  {"data":{"name":"d2"},"transform":[{"joinaggregate":[{"op":"max","field":"v","as":"mx"}],"groupby":["m"]},{"filter":"datum.v === datum.mx"}],"mark":{"type":"rect"},
   "encoding":{"x":{"field":"c","type":"nominal","scale":{"type":"band","domain":["DISNEY CHANNEL","ANTENA.NEOX","LASIETE","ANTENA.NOVA","FDF-T5","TELEDEPORTE","INTERECONOMIA","VEO7","24 HORAS","CNN+"],"range":[97,527],"paddingInner":0,"paddingOuter":0},"axis":null},
   "y":{"field":"m","type":"ordinal","scale":{"type":"band","domain":["jun-09","jul-09","ago-09","sep-09","oct-09","nov-09","dic-09","ene-10","feb-10","mar-10","abr-10","may-10","jun-10"],"range":[0,150],"paddingInner":0,"paddingOuter":0},"axis":null},
   "color":{"field":"c","type":"nominal","scale":{"domain":["DISNEY CHANNEL","ANTENA.NEOX","LASIETE","ANTENA.NOVA","FDF-T5","TELEDEPORTE","INTERECONOMIA","VEO7","24 HORAS","CNN+"],"range":["#00CCFF","#0000FF","#FF9900","#FF0000","#FFFF00","#00FF00","#FF00FF","#FF99CC","#33CCCC","#993366"]},"legend":null}}},
  {"data":{"name":"d2"},"transform":[{"joinaggregate":[{"op":"max","field":"v","as":"mx"}],"groupby":["m"]},{"filter":"datum.v < datum.mx"}],"mark":{"type":"text","fontSize":10.5,"color":"#8A8A8A"},
   "encoding":{"x":{"field":"c","type":"nominal","scale":{"type":"band","domain":["DISNEY CHANNEL","ANTENA.NEOX","LASIETE","ANTENA.NOVA","FDF-T5","TELEDEPORTE","INTERECONOMIA","VEO7","24 HORAS","CNN+"],"range":[97,527],"paddingInner":0,"paddingOuter":0},"axis":null},
   "y":{"field":"m","type":"ordinal","axis":null},"text":{"field":"v","type":"quantitative","format":".1f"}}},
  {"data":{"name":"d2"},"transform":[{"joinaggregate":[{"op":"max","field":"v","as":"mx"}],"groupby":["m"]},{"filter":"datum.v === datum.mx"}],"mark":{"type":"text","fontSize":11,"fontWeight":"bold"},
   "encoding":{"x":{"field":"c","type":"nominal","scale":{"type":"band","domain":["DISNEY CHANNEL","ANTENA.NEOX","LASIETE","ANTENA.NOVA","FDF-T5","TELEDEPORTE","INTERECONOMIA","VEO7","24 HORAS","CNN+"],"range":[97,527],"paddingInner":0,"paddingOuter":0},"axis":null},
   "y":{"field":"m","type":"ordinal","axis":null},"text":{"field":"v","type":"quantitative","format":".1f"},"color":{"condition":{"test":"datum.c === 'ANTENA.NEOX'","value":"#FFFFFF"},"value":"#000000"}}},
  {"data":{"name":"d2"},"transform":[{"filter":{"field":"c","equal":"DISNEY CHANNEL"}}],"mark":{"type":"text","fontSize":11,"fontWeight":"bold","color":"#000000"},
   "encoding":{"x":{"datum":0.5,"type":"quantitative","scale":{"domain":[0,1],"range":[21,97]},"axis":null},"y":{"field":"m","type":"ordinal","axis":null},"text":{"field":"m","type":"nominal"}}}
 ],
 "resolve":{"scale":{"x":"independent","color":"independent"}}
},
{
 "width":593,"height":65,
 "data":{"name":"s2"},
 "encoding":{"y":{"field":"f","type":"nominal","scale":{"type":"band","domain":["ultimo mes  Vs\nmes anterior","último mes Vs\nmismo mes año\nanterior"],"range":[10,65],"paddingInner":0.06,"paddingOuter":0.03},"axis":null}},
 "layer":[
  {"transform":[{"filter":{"field":"c","equal":"DISNEY CHANNEL"}}],"mark":{"type":"rect","fill":"#D6D6D6","stroke":"#BDBDBD","strokeWidth":1},"encoding":{"x":{"datum":0,"type":"quantitative","scale":{"domain":[0,1],"range":[21,527]},"axis":null},"x2":{"datum":1},"y":{"field":"f","type":"nominal","scale":{"type":"band","domain":["ultimo mes  Vs\nmes anterior","último mes Vs\nmismo mes año\nanterior"],"range":[10,65],"paddingInner":0,"paddingOuter":0},"axis":null}}},
  {"transform":[{"filter":{"field":"c","equal":"DISNEY CHANNEL"}}],"mark":{"type":"rect","fill":"#99CCFF","stroke":"#6E8FC4","strokeWidth":1.5},"encoding":{"x":{"datum":0,"type":"quantitative","scale":{"domain":[0,1],"range":[22,96]},"axis":null},"x2":{"datum":1}}},
  {"transform":[{"filter":{"and":[{"field":"c","equal":"DISNEY CHANNEL"},{"field":"f","equal":"ultimo mes  Vs\nmes anterior"}]}}],"mark":{"type":"text","fontSize":7,"fontWeight":"bold","color":"#1A1A3A","lineBreak":"\n","lineHeight":8.5,"dy":-4.25},"encoding":{"x":{"datum":0.5,"type":"quantitative","scale":{"domain":[0,1],"range":[22,96]},"axis":null},"text":{"field":"f","type":"nominal"}}},
  {"transform":[{"filter":{"and":[{"field":"c","equal":"DISNEY CHANNEL"},{"field":"f","equal":"último mes Vs\nmismo mes año\nanterior"}]}}],"mark":{"type":"text","fontSize":7,"fontWeight":"bold","color":"#1A1A3A","lineBreak":"\n","lineHeight":8.5,"dy":-8.5},"encoding":{"x":{"datum":0.5,"type":"quantitative","scale":{"domain":[0,1],"range":[22,96]},"axis":null},"text":{"field":"f","type":"nominal"}}},
  {"mark":{"type":"rect","fill":"#FFFFFF","stroke":"#B4B4B4","strokeWidth":1.5},"encoding":{"x":{"field":"c","type":"nominal","scale":{"type":"band","domain":["DISNEY CHANNEL","ANTENA.NEOX","LASIETE","ANTENA.NOVA","FDF-T5","TELEDEPORTE","INTERECONOMIA","VEO7","24 HORAS","CNN+"],"range":[97,527],"paddingInner":0.06,"paddingOuter":0.03},"axis":null}}},
  {"mark":{"type":"text","fontSize":10.5},"encoding":{"x":{"field":"c","type":"nominal","scale":{"type":"band","domain":["DISNEY CHANNEL","ANTENA.NEOX","LASIETE","ANTENA.NOVA","FDF-T5","TELEDEPORTE","INTERECONOMIA","VEO7","24 HORAS","CNN+"],"range":[97,527],"paddingInner":0.06,"paddingOuter":0.03},"axis":null},"text":{"field":"v","type":"quantitative","format":".1f"},"color":{"condition":[{"test":"datum.v < 0","value":"#FF0000"},{"test":"datum.v > 0","value":"#00E000"}],"value":"#000000"}}}
 ],
 "resolve":{"scale":{"x":"independent","y":"independent"}}
}
]
}
